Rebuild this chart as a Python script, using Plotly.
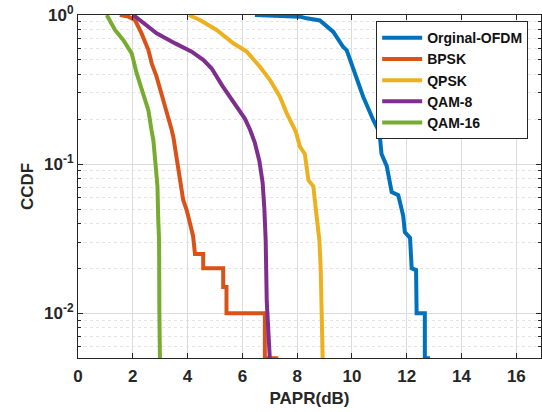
import plotly.graph_objects as go

# ---- data (PAPR in dB, CCDF) ----
ofdm_x = [6.46, 7.37, 8.10, 8.35, 8.83, 9.32, 9.68, 9.81, 10.05, 10.17, 10.41, 10.78, 10.96, 11.02, 11.08, 11.27,
          11.45, 11.69, 11.87, 11.93, 12.12, 12.18, 12.34, 12.36, 12.66, 12.66, 12.85]
ofdm_y = [1.0, 0.984, 0.975, 0.95, 0.92, 0.77, 0.61, 0.58, 0.43, 0.385, 0.283, 0.197, 0.17, 0.152, 0.117, 0.097,
          0.065, 0.062, 0.045, 0.035, 0.032, 0.02, 0.0195, 0.01, 0.01, 0.005, 0.005]

bpsk_x = [1.53, 1.84, 2.08, 2.32, 2.57, 2.69, 2.87, 3.05, 3.24, 3.40, 3.48, 3.62, 3.72, 3.84, 3.97, 4.09, 4.20,
          4.27, 4.57, 4.57, 5.30, 5.30, 5.42, 5.42, 6.82, 6.82, 7.31]
bpsk_y = [1.0, 0.975, 0.925, 0.753, 0.582, 0.474, 0.385, 0.298, 0.229, 0.175, 0.152, 0.101, 0.074, 0.0575,
          0.049, 0.040, 0.033, 0.025, 0.025, 0.02, 0.02, 0.015, 0.015, 0.01, 0.01, 0.005, 0.005]

qpsk_x = [4.05, 4.45, 5.06, 5.67, 6.16, 6.64, 7.01, 7.37, 7.62, 7.95, 8.10, 8.28, 8.41, 8.59, 8.71, 8.81, 8.86,
          8.89, 8.93]
qpsk_y = [1.0, 0.925, 0.794, 0.646, 0.568, 0.45, 0.366, 0.283, 0.219, 0.165, 0.131, 0.117, 0.078, 0.071,
          0.0447, 0.031, 0.0195, 0.01, 0.005]

qam8_x = [2.02, 2.38, 2.87, 3.55, 4.15, 4.57, 4.88, 5.27, 5.55, 5.79, 6.09, 6.28, 6.45, 6.62, 6.74, 6.80, 6.85,
          6.89, 6.95, 7.0]
qam8_y = [1.0, 0.88, 0.753, 0.645, 0.568, 0.50, 0.438, 0.335, 0.283, 0.243, 0.202, 0.170, 0.14, 0.105, 0.075,
          0.051, 0.031, 0.012, 0.007, 0.005]

qam16_x = [1.05, 1.35, 1.65, 1.96, 2.14, 2.38, 2.57, 2.68, 2.75, 2.83, 2.90, 2.93, 2.96, 2.97, 2.99]
qam16_y = [1.0, 0.794, 0.68, 0.553, 0.407, 0.298, 0.229, 0.17, 0.145, 0.10, 0.071, 0.042, 0.031, 0.0102, 0.005]

names = ["Orginal-OFDM", "BPSK", "QPSK", "QAM-8", "QAM-16"]
colors = ["#0072BD", "#D95319", "#EDB120", "#7E2F8E", "#77AC30"]

x_ticks = [0, 2, 4, 6, 8, 10, 12, 14, 16]
y_ticks = [1, 0.1, 0.01]
y_tick_text = ["10<sup>0</sup>", "10<sup>-1</sup>", "10<sup>-2</sup>"]
y_minor = [0.006, 0.007, 0.008, 0.009, 0.02, 0.03, 0.04, 0.05, 0.06, 0.07, 0.08, 0.09,
           0.2, 0.3, 0.4, 0.5, 0.6, 0.7, 0.8, 0.9]

series = [(ofdm_x, ofdm_y), (bpsk_x, bpsk_y), (qpsk_x, qpsk_y), (qam8_x, qam8_y), (qam16_x, qam16_y)]

fig = go.Figure()
for (xs, ys), n, c in zip(series, names, colors):
    fig.add_trace(go.Scatter(x=xs, y=ys, mode="lines", name=n,
                             line=dict(color=c, width=4, shape="linear")))

font_main = dict(family="Liberation Sans, Arial, sans-serif", color="#262626", size=16, weight="bold")

fig.update_layout(
    width=542, height=412,
    margin=dict(l=78, r=1, t=15, b=54),
    paper_bgcolor="white", plot_bgcolor="white",
    font=font_main,
    showlegend=True,
    legend=dict(x=0.644, y=0.982, xanchor="left", yanchor="top",
                bgcolor="white", bordercolor="#262626", borderwidth=1,
                font=dict(family="Liberation Sans, Arial, sans-serif", size=14, color="#111111", weight="bold"),
                tracegroupgap=0, itemwidth=40),
    xaxis=dict(
        range=[0, 16.9], tickvals=x_ticks, ticktext=[str(v) for v in x_ticks],
        showgrid=True, gridcolor="#dcdcdc", gridwidth=1,
        showline=True, linecolor="#262626", linewidth=1, mirror="allticks",
        ticks="inside", ticklen=5, tickcolor="#262626",
        tickfont=dict(size=17, weight="bold", color="#262626"),
        ticklabelstandoff=3,
        title=dict(text="PAPR(dB)", font=dict(size=17, weight="bold", color="#262626"), standoff=6),
        zeroline=False,
    ),
    yaxis=dict(
        type="log", range=[-2.3, 0],
        tickvals=y_ticks, ticktext=y_tick_text,
        showgrid=True, gridcolor="#dcdcdc", gridwidth=1,
        showline=True, linecolor="#262626", linewidth=1, mirror="allticks",
        ticks="inside", ticklen=5, tickcolor="#262626",
        tickfont=dict(size=17, weight="bold", color="#262626"),
        title=dict(text="CCDF", font=dict(size=17, weight="bold", color="#262626"), standoff=6),
        minor=dict(tickvals=y_minor, showgrid=True, gridcolor="#e4e4e4", griddash="dot",
                   ticks="inside", ticklen=3, tickcolor="#262626"),
        zeroline=False,
    ),
)

fig.write_html("out.html")
